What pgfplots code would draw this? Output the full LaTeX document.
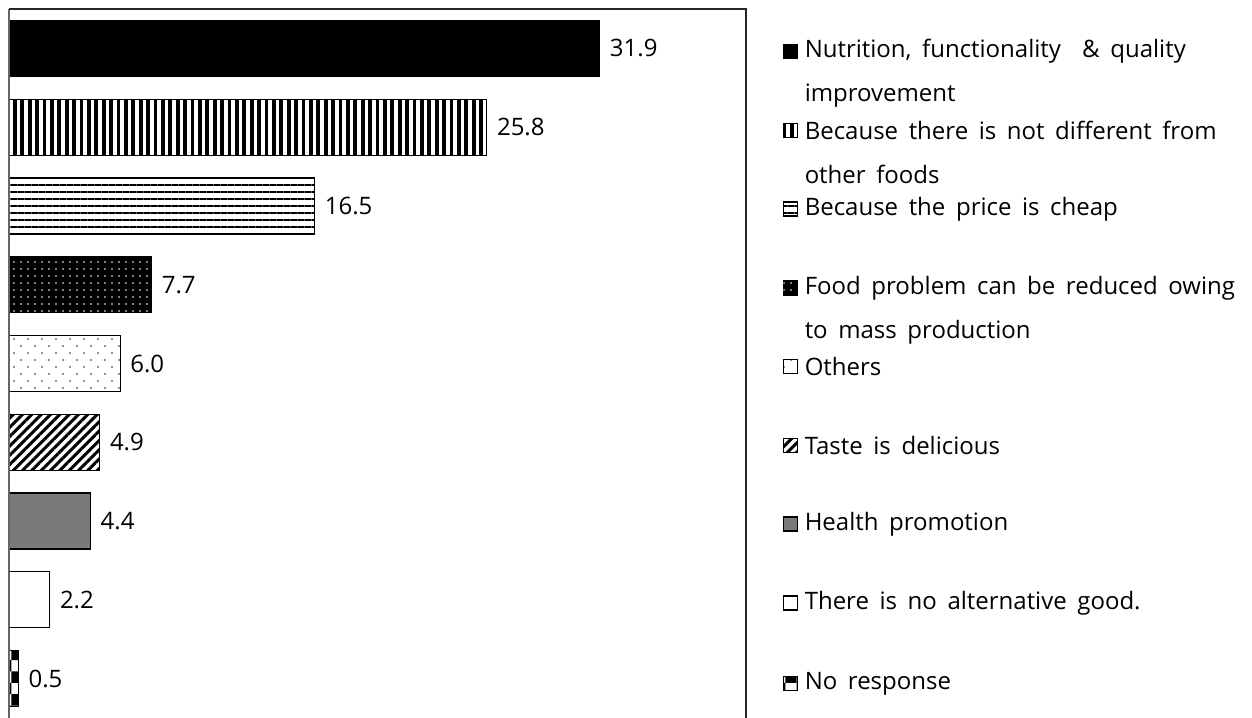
\documentclass[border=0pt]{standalone}
\usepackage{pgfplots}
\pgfplotsset{compat=1.18}
\usetikzlibrary{patterns,patterns.meta,calc}
\usepackage{fontspec}
\setmainfont[WordSpace=1.7]{Open Sans}
\tikzset{
 p1/.style={draw=black, fill=black},
 p2/.style={draw=black, fill=white, postaction={pattern={Lines[angle=90,distance=3.7pt,line width=1.9pt]}}},
 p3/.style={draw=black, fill=white, postaction={pattern={Lines[angle=0,distance=3.5pt,line width=0.8pt]}}},
 p4/.style={draw=black, fill=black, postaction={pattern={Dots[distance=3.5pt,radius=0.45pt]}, pattern color=white}},
 p5/.style={draw=black, fill=white, postaction={pattern={Dots[distance=4.95pt,angle=45,radius=0.4pt]}}},
 p6/.style={draw=black, fill=white, postaction={pattern={Lines[angle=45,distance=3.3pt,line width=1.5pt]}}},
 p7/.style={draw=black, fill=black!52},
 p8/.style={draw=black, fill=white},
 p9/.style={draw=black, fill=white, postaction={pattern=checkerboard}},
 sw/.style={line width=0.8pt, minimum size=7pt, inner sep=0pt, outer sep=0pt, draw=black},
}
\begin{document}
\begin{tikzpicture}
\useasboundingbox (-4.5pt,4.5pt) rectangle (621.5pt,-354pt);
\begin{axis}[
  at={(0pt,0pt)}, anchor=north west,
  scale only axis, width=368.5pt, height=354.5pt,
  xmin=0, xmax=39.8, ymin=0.5, ymax=9.5, y dir=reverse,
  xtick=\empty, ytick=\empty,
  axis line style={draw=none},
  clip=false,
  xbar, bar shift=0pt, bar width=28pt,
  every axis plot/.append style={line width=0.6pt},
  nodes near coords={\pgfmathprintnumber[fixed,fixed zerofill,precision=1]{\pgfplotspointmeta}},
  point meta=x,
  nodes near coords style={anchor=west, xshift=1.5pt, font=\fontsize{12}{14}\selectfont, text=black},
  /pgf/number format/assume math mode=true,
]
\addplot[p1] coordinates {(31.9,1)};
\addplot[p2] coordinates {(25.8,2)};
\addplot[p3] coordinates {(16.5,3)};
\addplot[p4] coordinates {(7.7,4)};
\addplot[p5] coordinates {(6.0,5)};
\addplot[p6] coordinates {(4.9,6)};
\addplot[p7] coordinates {(4.4,7)};
\addplot[p8] coordinates {(2.2,8)};
\addplot[p9] coordinates {(0.5,9)};
\draw[black!60, line width=0.7pt] (rel axis cs:0,1) -- (rel axis cs:0,-0.02);
\draw[black!85, line width=0.7pt] (rel axis cs:0,1) -- (rel axis cs:1,1) -- (rel axis cs:1,-0.02);
% legend swatches
\node[sw,p1] at (axis cs:42.2,1.04) {};
\node[sw,p2] at (axis cs:42.2,2.04) {};
\node[sw,p3] at (axis cs:42.2,3.04) {};
\node[sw,p4] at (axis cs:42.2,4.04) {};
\node[sw,p5] at (axis cs:42.2,5.04) {};
\node[sw,p6] at (axis cs:42.2,6.04) {};
\node[sw,p7] at (axis cs:42.2,7.04) {};
\node[sw,p8] at (axis cs:42.2,8.04) {};
\node[sw,p9] at (axis cs:42.2,9.06) {};
\begin{scope}[every node/.style={anchor=west, inner sep=0pt, font=\fontsize{12}{14}\selectfont}]
\node at (axis cs:42.95,1.04) {Nutrition, functionality \ \& quality};
\node at (axis cs:42.95,1.60) {improvement};
\node at (axis cs:42.95,2.04) {Because there is not different from};
\node at (axis cs:42.95,2.60) {other foods};
\node at (axis cs:42.95,3.04) {Because the price is cheap};
\node at (axis cs:42.95,4.04) {Food problem can be reduced owing};
\node at (axis cs:42.95,4.60) {to mass production};
\node at (axis cs:42.95,5.04) {Others};
\node at (axis cs:42.95,6.04) {Taste is delicious};
\node at (axis cs:42.95,7.04) {Health promotion};
\node at (axis cs:42.95,8.04) {There is no alternative good.};
\node at (axis cs:42.95,9.06) {No response};
\end{scope}
\end{axis}
\end{tikzpicture}
\end{document}
